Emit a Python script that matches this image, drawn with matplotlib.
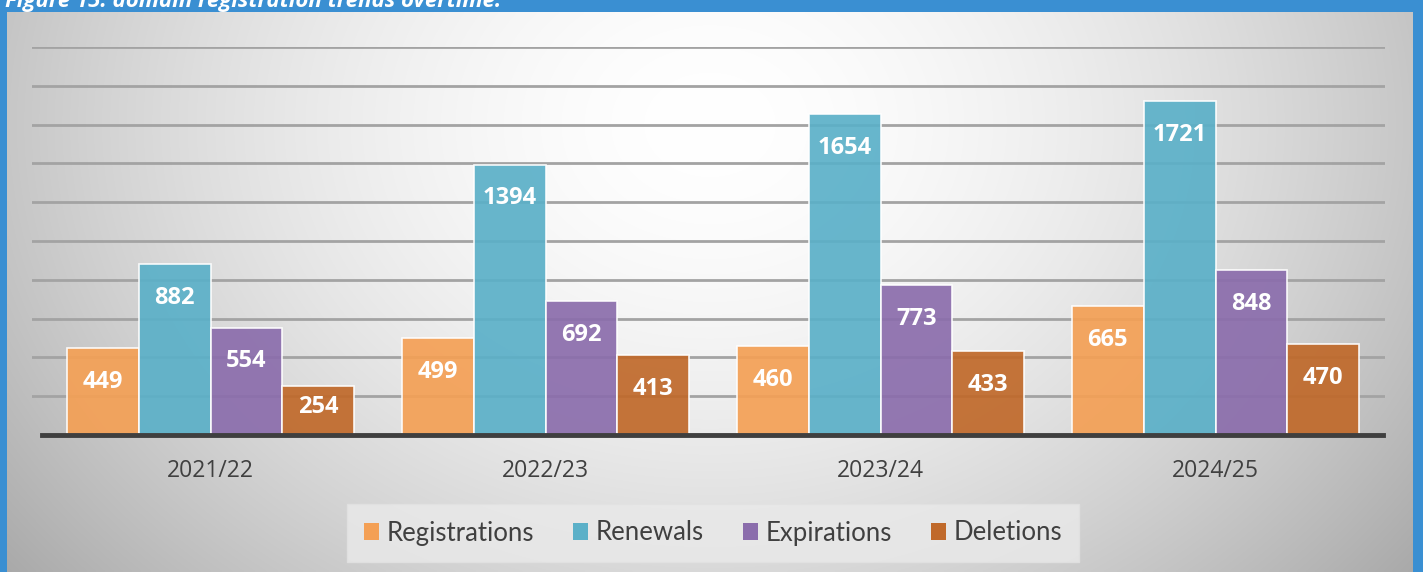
import numpy as np
import matplotlib.pyplot as plt
from matplotlib.patches import Patch

years = ['2021/22', '2022/23', '2023/24', '2024/25']
registrations = [449, 499, 460, 665]
renewals = [882, 1394, 1654, 1721]
expirations = [554, 692, 773, 848]
deletions = [254, 413, 433, 470]
series_names = ['Registrations', 'Renewals', 'Expirations', 'Deletions']
colors = ['#F4A055', '#5BB0C8', '#8B6DAC', '#C0692A']

W, H = 1423, 572
fig = plt.figure(figsize=(W / 100, H / 100), dpi=100)
fig.patch.set_facecolor('#3A8FD2')

# gradient panel
bg = fig.add_axes([7 / W, 0, (1413 - 7) / W, (H - 12) / H])
bg.set_axis_off()
xx, yy = np.meshgrid(np.linspace(0, 1, 400), np.linspace(0, 1, 200))
d = np.sqrt(((xx - 0.5) / 0.5) ** 2 + ((yy - 0.2) / 1.0) ** 2)
img = 1 - 0.22 * np.clip(d, 0, 1.3) ** 1.7
bg.imshow(np.dstack([img] * 3), aspect='auto', extent=[0, 1, 1, 0], interpolation='bilinear')
bg.set_xlim(0, 1)
bg.set_ylim(1, 0)

fig.text(5 / W, 1 - 7 / H, 'Figure 15: domain registration trends overtime.',
         color='white', fontsize=16, fontweight='bold', style='italic',
         family='Open Sans', va='baseline', ha='left')

# axes placed so one category step is 335 px
step = 335
ax = fig.add_axes([32 / W, 1 - 435 / H, (1385 - 32) / W, (435 - 47) / H])
ax.patch.set_alpha(0)
x = np.arange(len(years))
bw = 71.75 / step
data = [registrations, renewals, expirations, deletions]
px_per_unit = (435 - 47) / 2000
for i, (vals, col) in enumerate(zip(data, colors)):
    pos = x + (i - 1.5) * bw
    ax.bar(pos, vals, width=bw, color=col, alpha=0.92, edgecolor='white', linewidth=1.2, zorder=2)
    for p, v in zip(pos, vals):
        off = min(32, v * px_per_unit * 0.4)
        ax.annotate(str(v), (p, v), xytext=(0, -off * 0.76), textcoords='offset points',
                    ha='center', va='center', color='white', fontsize=17,
                    fontweight='bold', family='Open Sans', zorder=3)

ax.set_ylim(0, 2000)
ax.set_xlim(-(210.5 - 32) / step, 3 + (1385 - 1215.5) / step)
ax.set_yticks(np.arange(200, 2001, 200))
ax.yaxis.grid(True, color='#A3A3A3', linewidth=2, zorder=0)
ax.set_axisbelow(True)
ax.tick_params(axis='y', left=False, labelleft=False)
ax.tick_params(axis='x', bottom=False, pad=14, labelsize=16.5, labelcolor='#404040')
ax.set_xticks(x)
ax.set_xticklabels(years, family='Open Sans')
for s in ['top', 'right', 'left']:
    ax.spines[s].set_visible(False)
ax.spines['bottom'].set_color('#3F3F3F')
ax.spines['bottom'].set_linewidth(3.5)
ax.spines['bottom'].set_bounds((42 - 210.5) / step, (1383 - 210.5) / step)

handles = [Patch(facecolor=c, edgecolor='none') for c in colors]
leg = fig.legend(handles, series_names, loc='center', bbox_to_anchor=(713 / W, 1 - 533 / H),
                 ncol=4, frameon=True, fancybox=False, handlelength=0.6, handleheight=0.6,
                 handletextpad=0.3, columnspacing=1.5, borderpad=0.65,
                 prop={'family': 'Lato', 'size': 18.5})
leg.get_frame().set_facecolor('#EAEAEA')
leg.get_frame().set_edgecolor('#E2E2E2')
for t in leg.get_texts():
    t.set_color('#404040')

fig.savefig('out.png', dpi=100)
